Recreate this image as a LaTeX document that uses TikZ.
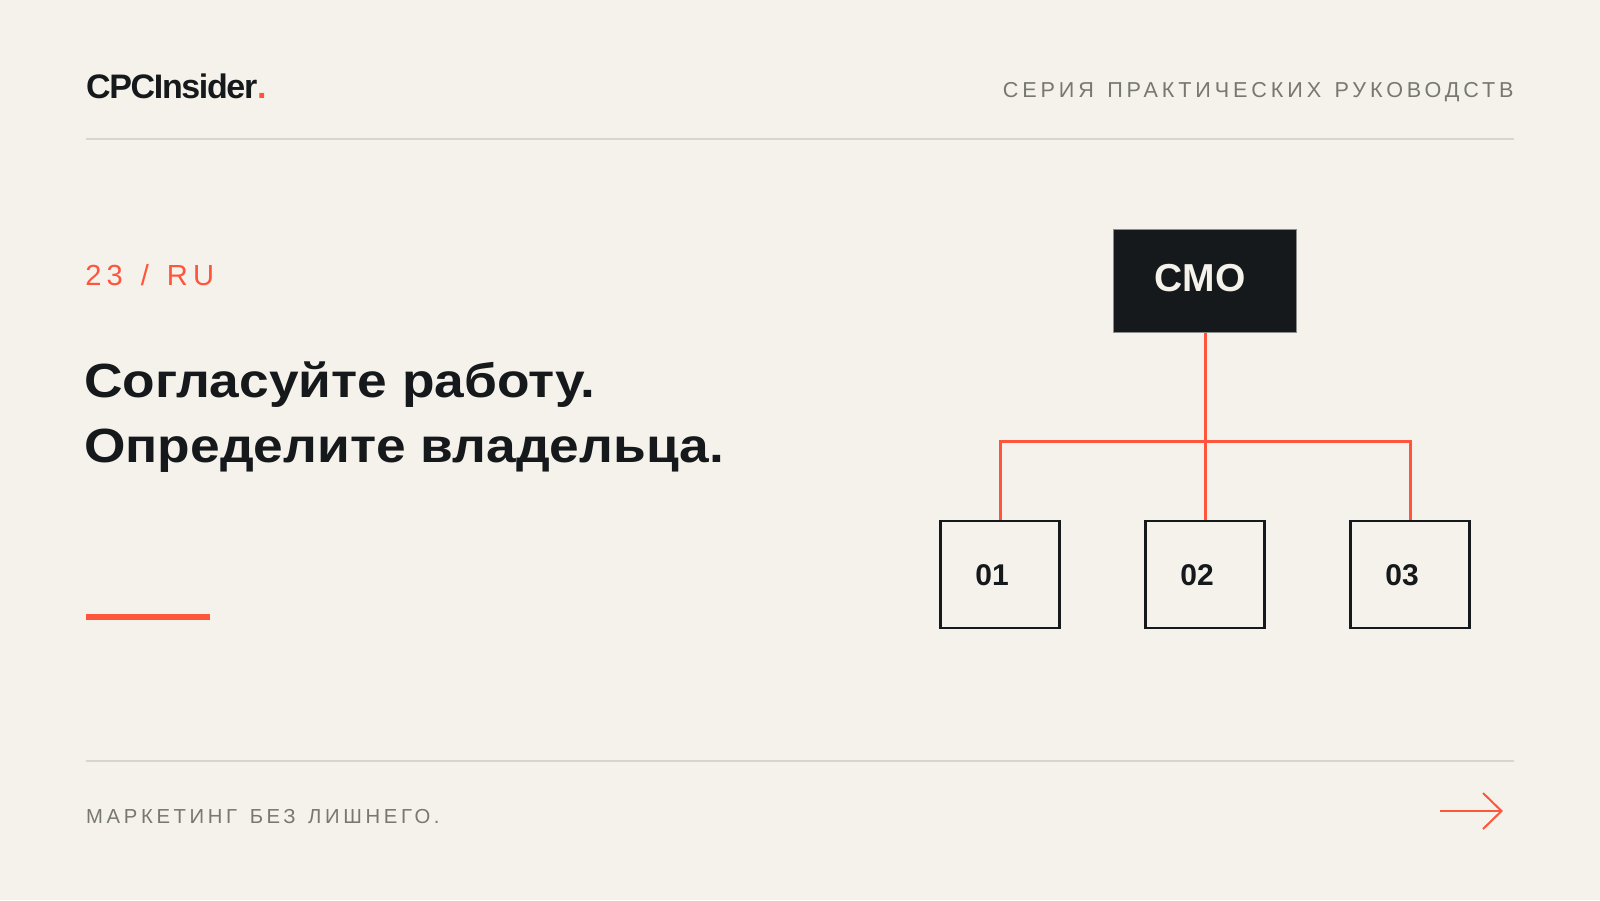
\documentclass[tikz,border=0pt]{standalone}
\usepackage{fontspec}
\setmainfont{Liberation Sans}
\newfontfamily\trackfont[LetterSpace=18]{Liberation Sans}
\newfontfamily\logofont[LetterSpace=-4]{Liberation Sans}
\newfontfamily\titlefont[FakeStretch=1.11]{Liberation Sans}
\newcommand{\wsp}{\hspace{0.62em}}
\usepackage{tikz}
\definecolor{paper}{HTML}{F5F2EB}
\definecolor{accent}{HTML}{FF553D}
\definecolor{ink}{HTML}{16191B}
\definecolor{muted}{HTML}{777870}
\definecolor{rule}{HTML}{D6D6CE}
\tikzset{every picture/.style={line width=0.75pt}}
\tikzset{
  orgline/.style={draw=accent, line width=2.25pt},
  unitbox/.style={draw=ink, line width=1.875pt, fill=paper, minimum width=89.5pt, minimum height=80.25pt, inner sep=0pt},
  cmobox/.style={draw=ink!50, line width=0.75pt, fill=ink, minimum width=137.25pt, minimum height=77.25pt, inner sep=0pt},
  hairline/.style={draw=rule, line width=1.125pt}
}

\begin{document}
\begin{tikzpicture}[x=0.75pt,y=0.75pt,yscale=-1,xscale=1]
\draw [fill=paper, draw=none] (0,0) -- (1600,0) -- (1600,900) -- (0,900) -- cycle ;
% header
\draw (85.7,98.3) node [anchor=base west][inner sep=0pt] (logo) {\fontsize{25.5}{26}\logofont\bfseries\color{ink}CPCInsider\textcolor{accent}{.}};
\draw (1514,97.5) node [anchor=base east][inner sep=0pt] (series) {\fontsize{16.2}{17}\trackfont\color{muted}СЕРИЯ\wsp ПРАКТИЧЕСКИХ\wsp РУКОВОДСТВ};
\draw [hairline] (85.7,138.8) -- (1514,138.8) ;
% left column
\draw (84.8,285.5) node [anchor=base west][inner sep=0pt] (issue) {\fontsize{21.8}{22}\trackfont\color{accent}23\wsp/\wsp RU};
\draw (83.7,397) node [anchor=base west][inner sep=0pt] (title1) {\fontsize{36}{36}\titlefont\bfseries\color{ink}Согласуйте работу.};
\draw (83.7,462.5) node [anchor=base west][inner sep=0pt] (title2) {\fontsize{36}{36}\titlefont\bfseries\color{ink}Определите владельца.};
\draw [fill=accent, draw=none] (85.7,614) -- (210,614) -- (210,620) -- (85.7,620) -- cycle ;
% org chart
\draw (1205,280.8) node [cmobox] (cmo) {};
\draw (1200,278.5) node [text=paper, font=\fontsize{29.25}{30}\selectfont\bfseries] (cmotext) {CMO};
\draw (1000,574.7) node [unitbox] (u1) {};
\draw (1205,574.7) node [unitbox] (u2) {};
\draw (1410,574.7) node [unitbox] (u3) {};
\draw (u1.center) node [xshift=-6pt, text=ink, font=\fontsize{22.5}{23}\selectfont\bfseries] (l1) {01};
\draw (u2.center) node [xshift=-6pt, text=ink, font=\fontsize{22.5}{23}\selectfont\bfseries] (l2) {02};
\draw (u3.center) node [xshift=-6pt, text=ink, font=\fontsize{22.5}{23}\selectfont\bfseries] (l3) {03};
\coordinate (bus) at (1205,441) ;
\draw [orgline] (cmo.south) -- (u2.north) ;
\draw [orgline] (u1.north) -- (u1.north |- bus) -- (u3.north |- bus) -- (u3.north) ;
% footer
\draw [hairline] (85.7,761) -- (1514,761) ;
\draw (85.7,823) node [anchor=base west][inner sep=0pt] (tagline) {\fontsize{15.2}{16}\trackfont\color{muted}МАРКЕТИНГ\wsp БЕЗ\wsp ЛИШНЕГО.};
\coordinate (arrtail) at (1440,811) ;
\coordinate (arrtip) at (1501.5,811) ;
\draw [draw=accent, line width=1.5pt] (arrtail) -- (arrtip) ;
\draw [draw=accent, line width=1.5pt] (arrtip) ++(-18.5,-18) -- (arrtip) -- ++(-18.5,18) ;
\end{tikzpicture}
\end{document}
